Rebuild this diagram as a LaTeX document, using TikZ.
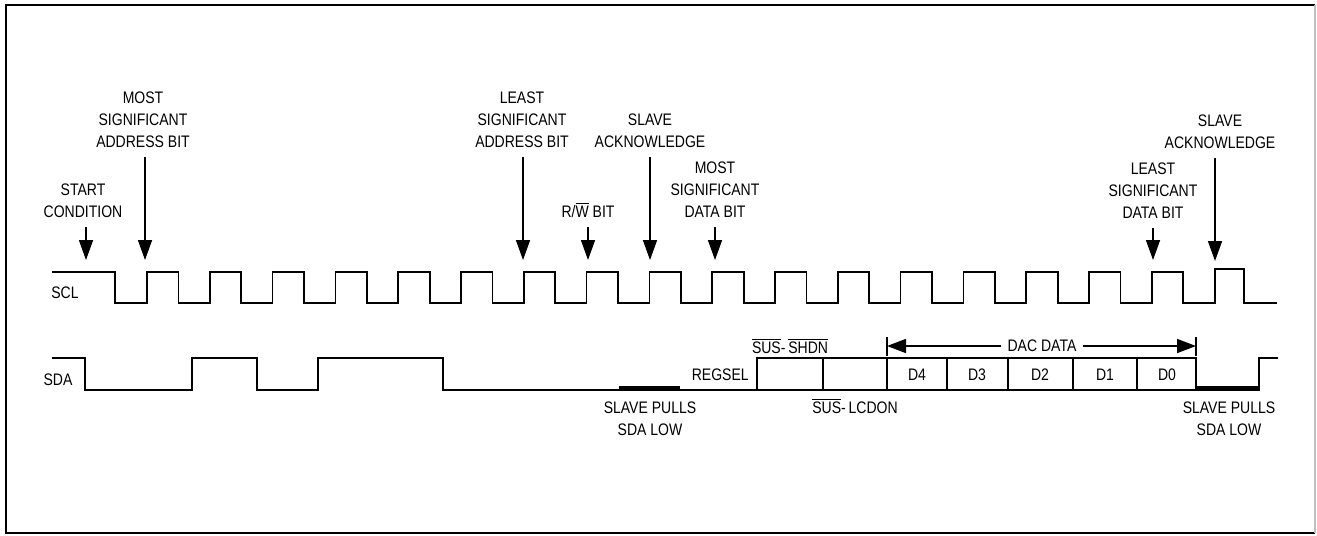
\documentclass[tikz,border=0pt]{standalone}
\usepackage{fontspec}
\setmainfont{Liberation Sans}[FakeStretch=0.84]
\usetikzlibrary{arrows.meta}
\usetikzlibrary{positioning}

\newcommand{\ovl}[1]{$\overline{\mbox{#1}}$}

\tikzset{
  txt/.style={inner sep=0pt, font=\fontsize{9.5}{12.5}\selectfont},
  lbl/.style={txt, align=center, anchor=south, inner ysep=5pt},
  sig/.style={line width=1pt},
  ptr/.style={line width=0.9pt, -{Triangle[length=0.4cm, width=0.28cm]}},
  dac/.style={line width=0.9pt, {Triangle[length=0.38cm, width=0.28cm]}-{Triangle[length=0.38cm, width=0.28cm]}},
  pull/.style={line width=2.8pt},
}

\begin{document}
\begin{tikzpicture}[x=0.02cm, y=-0.02cm]
  \useasboundingbox (0, 0) rectangle (1317, 535);

  % border
  \draw [line width=1.4pt] (1315, 533) -- (6, 533) -- (6, 5) -- (1315, 5);
  \draw [black!25, line width=0.6pt] (1315, 5) -- (1315, 533);

  % SCL
  \node [txt] (scl) at (65, 293) {SCL};
  \draw [sig] (52, 272) -| (115, 303)
    \foreach \k in {0, ..., 16} {
      -| ({147 + 62.8*\k}, 272) -| ({178.5 + 62.8*\k}, 303)
    }
    -| (1215, 269) -| (1244, 303) -- (1277, 303);

  % SDA
  \node [txt] (sda) at (58, 380) {SDA};
  \draw [sig] (52, 358) -| (85, 390) -| (192, 358) -| (257, 390) -| (318, 358)
    -| (443, 390) -| (757, 358) -| (1196, 390) -| (1259, 358) -- (1278, 358);
  \draw [sig] (757, 390) -- (1196, 390);
  \foreach \x in {823, 887, 947, 1008, 1073, 1137} {
    \draw [sig] (\x, 358) -- (\x, 390);
  }
  \draw [pull] (619, 388) -- (680, 388);
  \draw [pull] (1196, 388) -- (1259, 388);

  % register fields
  \node [txt, anchor=east] (regsel) at (749, 375) {REGSEL};
  \node [txt, anchor=base] (shdn) at (790, 353) {\ovl{SUS}-\,\ovl{SHDN}};
  \node [txt, anchor=base] (lcdon) at (855, 413) {\ovl{SUS}-\,LCDON};
  \foreach \x/\d in {917/D4, 977/D3, 1040/D2, 1105/D1, 1167/D0} {
    \node [txt] (\d) at (\x, 375) {\d};
  }

  % DAC data span
  \coordinate (dacl) at (887, 346);
  \coordinate (dacr) at (1196, 346);
  \draw [sig] (887, 337) -- (887, 356);
  \draw [sig] (1196, 337) -- (1196, 356);
  \draw [dac] (dacl) -- (dacr);
  \node [txt, fill=white, inner xsep=4pt] (dac) at (1042, 346) {DAC DATA};

  % pull-downs
  \node [txt, align=center] (pull1) at (650, 419) {SLAVE PULLS\\SDA LOW};
  \node [txt, align=center] (pull2) at (1229, 419) {SLAVE PULLS\\SDA LOW};

  % pointers to SCL
  \coordinate (tstart) at (86, 260);
  \coordinate (tmsab) at (145, 260);
  \coordinate (tlsab) at (523, 260);
  \coordinate (trw) at (588, 260);
  \coordinate (tack1) at (650, 260);
  \coordinate (tmsdb) at (715, 260);
  \coordinate (tlsdb) at (1153, 260);
  \coordinate (tack2) at (1215, 261);

  \node [lbl] (start) at (83, 227) {START\\CONDITION};
  \node [lbl] (msab) at (143, 157) {MOST\\SIGNIFICANT\\ADDRESS BIT};
  \node [lbl] (lsab) at (522, 157) {LEAST\\SIGNIFICANT\\ADDRESS BIT};
  \node [lbl] (rw) at (588, 227) {R/\ovl{W} BIT};
  \node [lbl] (ack1) at (650, 157) {SLAVE\\ACKNOWLEDGE};
  \node [lbl] (msdb) at (715, 227) {MOST\\SIGNIFICANT\\DATA BIT};
  \node [lbl] (lsdb) at (1153, 228) {LEAST\\SIGNIFICANT\\DATA BIT};
  \node [lbl] (ack2) at (1220, 158) {SLAVE\\ACKNOWLEDGE};

  \draw [ptr] (start.south -| tstart) -- (tstart);
  \draw [ptr] (msab.south -| tmsab) -- (tmsab);
  \draw [ptr] (lsab.south -| tlsab) -- (tlsab);
  \draw [ptr] (rw.south -| trw) -- (trw);
  \draw [ptr] (ack1.south -| tack1) -- (tack1);
  \draw [ptr] (msdb.south -| tmsdb) -- (tmsdb);
  \draw [ptr] (lsdb.south -| tlsdb) -- (tlsdb);
  \draw [ptr] (ack2.south -| tack2) -- (tack2);
\end{tikzpicture}
\end{document}
